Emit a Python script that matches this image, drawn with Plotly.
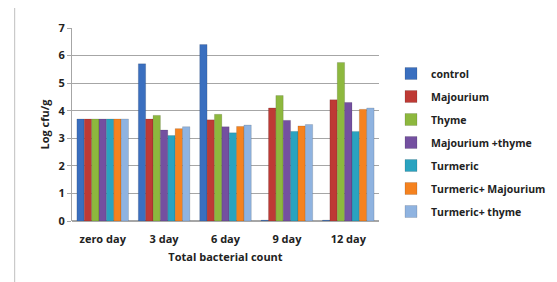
import plotly.graph_objects as go

categories = ["zero day", "3 day", "6 day", "9 day", "12 day"]
series_names = ["control", "Majourium", "Thyme", "Majourium +thyme",
                "Turmeric", "Turmeric+ Majourium", "Turmeric+ thyme"]
control = [3.7, 5.7, 6.4, 0.03, 0.03]
majourium = [3.7, 3.7, 3.67, 4.1, 4.4]
thyme = [3.7, 3.83, 3.87, 4.55, 5.75]
majourium_thyme = [3.7, 3.3, 3.42, 3.65, 4.3]
turmeric = [3.7, 3.1, 3.2, 3.25, 3.25]
turmeric_majourium = [3.7, 3.35, 3.43, 3.45, 4.05]
turmeric_thyme = [3.7, 3.42, 3.48, 3.5, 4.1]
y_ticks = [0, 1, 2, 3, 4, 5, 6, 7]

values = [control, majourium, thyme, majourium_thyme, turmeric,
          turmeric_majourium, turmeric_thyme]
colors = ["#3A6FBF", "#BE3A35", "#8DB83E", "#7450A0", "#2AA3C0",
          "#F5821F", "#8FB3E0"]

FONT = "Open Sans"
fig = go.Figure()
for name, vals, col in zip(series_names, values, colors):
    fig.add_trace(go.Bar(
        x=categories, y=vals, name=name, legendgroup=name,
        marker=dict(color=col, line=dict(width=0.5, color="rgba(0,0,0,0.25)")),
    ))

# page body has an 8px margin; work in window pixels and shift
OFF = 8
W, H = 557 - OFF, 282 - OFF
L, R, T, B = 72 - OFF, 388 - OFF, 28 - OFF, 221 - OFF

def px(x):
    return (x - OFF - L) / (R - L)

def py(y):
    return (B - (y - OFF)) / (B - T)

fig.update_layout(
    width=W, height=H,
    margin=dict(l=L, r=W - R, t=T, b=H - B),
    paper_bgcolor="white", plot_bgcolor="white",
    barmode="group", bargap=0.16, bargroupgap=0.0,
    font=dict(family=FONT, size=11, color="#222222"),
    showlegend=True,
    legend=dict(
        xref="container", yref="container",
        x=(391 - OFF) / W, y=1 - (59 - OFF) / H,
        xanchor="left", yanchor="top",
        font=dict(family=FONT, size=10.5, color="#222222", weight="bold"),
        tracegroupgap=4, traceorder="grouped",
        itemwidth=30, bgcolor="rgba(0,0,0,0)",
        maxheight=220,
    ),
    xaxis=dict(
        showgrid=False, showline=False, ticks="",
        ticklabelstandoff=10,
        tickfont=dict(family=FONT, size=11, weight="bold"),
        title=dict(text="Total bacterial count", standoff=8,
                   font=dict(family=FONT, size=11, weight="bold")),
    ),
    yaxis=dict(
        range=[0, 7], tickvals=y_ticks, showgrid=True,
        gridcolor="#A6A6A6", gridwidth=1, zeroline=True,
        zerolinecolor="#A6A6A6", showline=True, linecolor="#A6A6A6",
        ticks="outside", ticklen=4, tickcolor="#A6A6A6",
        tickfont=dict(family=FONT, size=11, weight="bold"),
        title=dict(text="Log cfu/g", standoff=6,
                   font=dict(family=FONT, size=11, weight="bold")),
    ),
    shapes=[
        dict(type="rect", xref="paper", yref="paper",
             x0=px(13), x1=px(575), y0=py(300), y1=py(5),
             line=dict(color="#BFBFBF", width=1), layer="below"),
    ],
)

fig.write_html("out.html")
